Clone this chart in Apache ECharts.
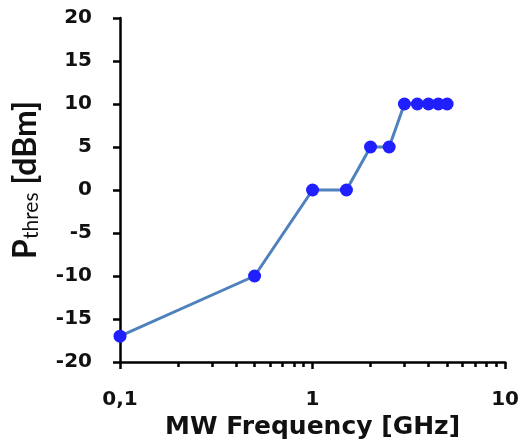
<!DOCTYPE html>
<html>
<head>
<meta charset="utf-8">
<script src="https://cdn.jsdelivr.net/npm/echarts@6/dist/echarts.min.js"></script>
<style>
  html, body { margin: 0; padding: 0; background: #fff; }
  #chart { width: 522px; height: 445px; }
</style>
</head>
<body>
<div id="chart"></div>
<script>
// MW frequency [GHz] and threshold power [dBm]
var freq = [0.1, 0.5, 1, 1.5, 2, 2.5, 3, 3.5, 4, 4.5, 5]
var pthres = [-17, -10, 0, 0, 5, 5, 10, 10, 10, 10, 10]
var minorTicks = [0.2, 0.3, 0.4, 0.5, 0.6, 0.7, 0.8, 0.9, 2, 3, 4, 5, 6, 7, 8, 9]

var font = 'DejaVu Sans'
var chart = echarts.init(document.getElementById('chart'))
var option = {
    animation: false,
    grid: { left: 120, right: 15, top: 18, bottom: 78 },
    xAxis: [
        {
            type: 'log',
            min: 0.1,
            max: 10,
            logBase: 10,
            name: 'MW Frequency [GHz]',
            nameLocation: 'middle',
            nameGap: 53,
            nameTextStyle: { fontFamily: font, fontWeight: 'bold', fontSize: 25, color: '#111' },
            axisLine: { onZero: false, lineStyle: { color: '#000', width: 2.5 } },
            axisTick: { inside: false, length: 7, lineStyle: { color: '#000', width: 2.5 } },
            axisLabel: {
                fontFamily: font, fontWeight: 'bold', fontSize: 20, color: '#111', margin: 28,
                formatter: function (v) { return String(v).replace('.', ',') }
            },
            splitLine: { show: false }
        },
        {
            type: 'log',
            min: 0.1,
            max: 10,
            position: 'bottom',
            axisLine: { show: false, onZero: false },
            axisTick: { inside: false, length: 5, customValues: minorTicks, lineStyle: { color: '#000', width: 2.5 } },
            axisLabel: { show: false },
            splitLine: { show: false }
        }
    ],
    yAxis: {
        type: 'value',
        min: -20,
        max: 20,
        interval: 5,
        name: '{a|P}{s|thres}{a| [dBm]}',
        nameLocation: 'middle',
        nameRotate: 90,
        nameGap: 78,
        nameTextStyle: {
            padding: [0, 0, 0, 20],
            rich: {
                a: { fontFamily: 'Lato', fontWeight: 'bold', fontSize: 32, color: '#111', verticalAlign: 'bottom' },
                s: { fontFamily: 'Lato', fontSize: 21, color: '#111', verticalAlign: 'bottom' }
            }
        },
        axisLine: { show: true, lineStyle: { color: '#000', width: 2.5 } },
        axisTick: { show: true, inside: false, length: 7, lineStyle: { color: '#000', width: 2.5 } },
        axisLabel: { fontFamily: font, fontWeight: 'bold', fontSize: 20, color: '#111', margin: 28 },
        splitLine: { show: false }
    },
    series: [
        {
            type: 'line',
            data: freq.map(function (f, i) { return [f, pthres[i]] }),
            symbol: 'circle',
            symbolSize: 13,
            lineStyle: { color: '#4f81bd', width: 3 },
            itemStyle: { color: '#1f1fff' }
        }
    ]
}
chart.setOption(option)
</script>
</body>
</html>
